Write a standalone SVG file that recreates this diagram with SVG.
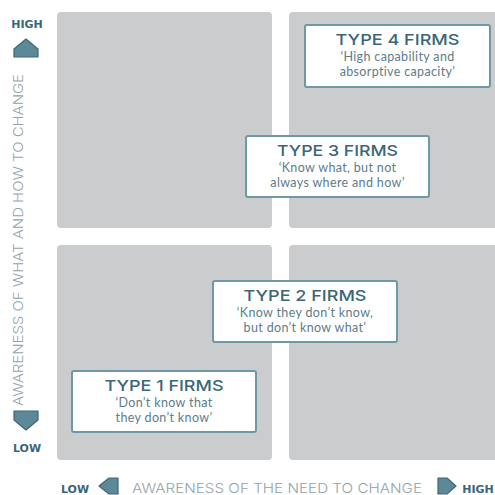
<svg xmlns="http://www.w3.org/2000/svg" width="495" height="495" viewBox="0 0 495 495">
<style>
.quad{fill:#cbcccd}
.box{fill:#ffffff;stroke:#6f98a6;stroke-width:2}
.title{font-family:Inter,"DejaVu Sans",sans-serif;font-size:15px;font-weight:500;fill:#3b6677;text-anchor:middle}
.sub{font-family:Lato,"Open Sans",sans-serif;font-size:12.5px;letter-spacing:0.35px;fill:#5e7c89;text-anchor:middle}
.axis{font-family:Inter,"DejaVu Sans",sans-serif;font-size:13.5px;font-weight:300;fill:#93a3aa}
.end{font-family:"DejaVu Sans",sans-serif;font-size:11px;font-weight:bold;fill:#3b6677;text-anchor:middle}
.arrow{fill:#5d8898;stroke:#3d6878;stroke-width:1.2;stroke-linejoin:round}
</style>
<g id="quadrants">
<rect class="quad" x="57" y="12" width="215" height="216" rx="4"/>
<rect class="quad" x="289" y="12" width="210" height="216" rx="4"/>
<rect class="quad" x="57" y="245" width="215" height="215" rx="4"/>
<rect class="quad" x="289" y="245" width="210" height="215" rx="4"/>
</g>
<g id="type4">
<rect class="box" x="305" y="25" width="185" height="62" rx="2"/>
<text class="title" x="397.5" y="45" textLength="124" lengthAdjust="spacingAndGlyphs">TYPE 4 FIRMS</text>
<text class="sub" x="397.5" y="61">‘High capability and</text>
<text class="sub" x="397.5" y="76">absorptive capacity’</text>
</g>
<g id="type3">
<rect class="box" x="246" y="136" width="183" height="61" rx="2"/>
<text class="title" x="337.5" y="156" textLength="121" lengthAdjust="spacingAndGlyphs">TYPE 3 FIRMS</text>
<text class="sub" x="337.5" y="172">‘Know what, but not</text>
<text class="sub" x="337.5" y="187">always where and how’</text>
</g>
<g id="type2">
<rect class="box" x="213" y="281" width="184" height="61" rx="2"/>
<text class="title" x="305" y="301" textLength="123" lengthAdjust="spacingAndGlyphs">TYPE 2 FIRMS</text>
<text class="sub" x="305" y="317">‘Know they don’t know,</text>
<text class="sub" x="305" y="332">but don’t know what’</text>
</g>
<g id="type1">
<rect class="box" x="72" y="371" width="184" height="61" rx="2"/>
<text class="title" x="164" y="391" textLength="119" lengthAdjust="spacingAndGlyphs">TYPE 1 FIRMS</text>
<text class="sub" x="164" y="407">‘Don’t know that</text>
<text class="sub" x="164" y="422">they don’t know’</text>
</g>
<g id="y-axis">
<text class="end" x="27" y="27.5">HIGH</text>
<path class="arrow" d="M26,39 L38,49 L38,57 L14,57 L14,49 Z"/>
<text class="axis" transform="translate(23,406) rotate(-90)" x="0" y="0" textLength="332" lengthAdjust="spacingAndGlyphs">AWARENESS OF WHAT AND HOW TO CHANGE</text>
<path class="arrow" d="M14,411 L38,411 L38,420 L26,430 L14,420 Z"/>
<text class="end" x="27" y="452">LOW</text>
</g>
<g id="x-axis">
<text class="end" x="75" y="493">LOW</text>
<path class="arrow" d="M99,486 L109,478 L118,478 L118,494 L109,494 Z"/>
<text class="axis" x="132" y="493" textLength="290" lengthAdjust="spacingAndGlyphs">AWARENESS OF THE NEED TO CHANGE</text>
<path class="arrow" d="M438,478 L447,478 L456,486 L447,494 L438,494 Z"/>
<text class="end" x="478" y="493">HIGH</text>
</g>
</svg>
